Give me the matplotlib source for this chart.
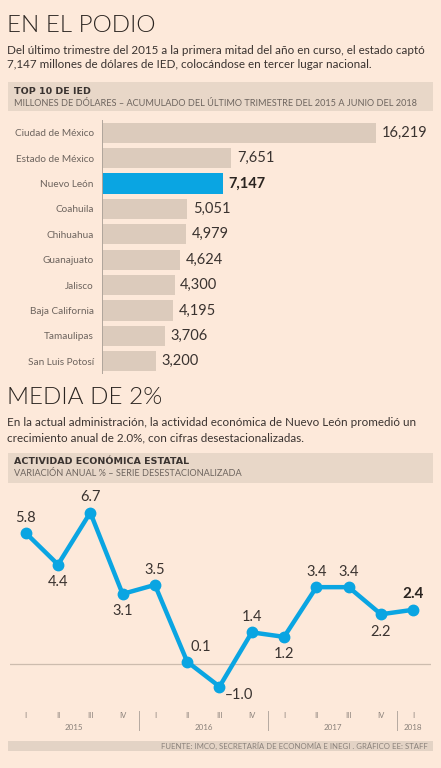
import numpy as np
import matplotlib
matplotlib.use("Agg")
import matplotlib.pyplot as plt
from matplotlib.patches import Rectangle

plt.rcParams["font.family"] = ["Lato", "DejaVu Sans"]

# Datos: top 10 de IED (millones de dólares)
estados = ["Ciudad de México", "Estado de México", "Nuevo León", "Coahuila",
           "Chihuahua", "Guanajuato", "Jalisco", "Baja California",
           "Tamaulipas", "San Luis Potosí"]
ied = [16219, 7651, 7147, 5051, 4979, 4624, 4300, 4195, 3706, 3200]
destacado = "Nuevo León"

# Datos: actividad económica estatal (variación anual %)
trimestres = ["I", "II", "III", "IV", "I", "II", "III", "IV",
              "I", "II", "III", "IV", "I"]
anios = ["2015", "2016", "2017", "2018"]
trimestres_por_anio = [4, 4, 4, 1]
variacion = [5.8, 4.4, 6.7, 3.1, 3.5, 0.1, -1.0, 1.4, 1.2, 3.4, 3.4, 2.2, 2.4]
posicion_etiqueta = ["arriba", "abajo", "arriba", "abajo", "arriba", "der_arriba",
                     "der_abajo", "arriba", "abajo", "arriba", "arriba", "abajo", "arriba"]

# Colores
FONDO = "#fde9da"
BARRA = "#dccbbc"
CAJA = "#e8d7c8"
AZUL = "#0aa5e2"
TEXTO = "#3a3330"
GRIS = "#6d645e"
GRIS_CLARO = "#8a817a"

W, H = 441, 768
fig = plt.figure(figsize=(W / 100, H / 100), dpi=100)
fig.patch.set_facecolor(FONDO)


def fx(px):
    return px / W


def fy(py):
    return 1 - py / H


def caja(x0, y0, x1, y1, color):
    fig.patches.append(Rectangle((fx(x0), fy(y1)), fx(x1) - fx(x0), fy(y0) - fy(y1),
                                 transform=fig.transFigure, facecolor=color,
                                 edgecolor="none", zorder=0))


def cabecera(y0, y1, titulo, subtitulo):
    caja(8, y0, 433, y1, CAJA)
    fig.text(fx(14), fy(y0 + 9), titulo, fontsize=6.8, fontweight="bold",
             family="DejaVu Sans", color=TEXTO, va="center")
    fig.text(fx(14), fy(y0 + 21), subtitulo, fontsize=6.55, color=GRIS, va="center")


# ---- Sección 1 ----
fig.text(fx(7), fy(25), "EN EL PODIO", fontsize=17.5, fontweight=300,
         color="#2a2420", va="center", ha="left")
fig.text(fx(7), fy(50), "Del último trimestre del 2015 a la primera mitad del año en curso, el estado captó",
         fontsize=8.35, color=TEXTO, va="center")
fig.text(fx(7), fy(65), "7,147 millones de dólares de IED, colocándose en tercer lugar nacional.",
         fontsize=8.35, color=TEXTO, va="center")

cabecera(82, 111, "TOP 10 DE IED",
         "MILLONES DE DÓLARES – ACUMULADO DEL ÚLTIMO TRIMESTRE DEL 2015 A JUNIO DEL 2018")

ax1 = fig.add_axes([fx(102), fy(374), fx(433) - fx(102), fy(120) - fy(374)])
ax1.set_facecolor("none")
y = np.arange(len(estados))
colores = [AZUL if e == destacado else BARRA for e in estados]
ax1.barh(y, ied, height=0.8, color=colores, zorder=2)
ax1.set_xlim(0, 331 / 0.0169)
ax1.set_ylim(len(estados) - 0.5, -0.5)
ax1.axvline(0, color="#b0a59c", linewidth=0.7, zorder=3)
for s in ax1.spines.values():
    s.set_visible(False)
ax1.set_xticks([])
ax1.set_yticks(y)
ax1.set_yticklabels(estados, fontsize=7.2, color=GRIS)
ax1.tick_params(axis="y", length=0, pad=6)
for i, (e, v) in enumerate(zip(estados, ied)):
    peso = "bold" if e == destacado else "normal"
    ax1.annotate(f"{v:,}", xy=(v, i), xytext=(4, 0), textcoords="offset points",
                 va="center", ha="left", fontsize=10.5, fontweight=peso,
                 color="#2a2420" if e == destacado else TEXTO)

# ---- Sección 2 ----
fig.text(fx(7), fy(398), "MEDIA DE 2%", fontsize=17.5, fontweight=300,
         color="#2a2420", va="center", ha="left")
fig.text(fx(7), fy(422), "En la actual administración, la actividad económica de Nuevo León promedió un",
         fontsize=8.35, color=TEXTO, va="center")
fig.text(fx(7), fy(438), "crecimiento anual de 2.0%, con cifras desestacionalizadas.",
         fontsize=8.35, color=TEXTO, va="center")

cabecera(453, 483, "ACTIVIDAD ECONÓMICA ESTATAL",
         "VARIACIÓN ANUAL % – SERIE DESESTACIONALIZADA")

px0, dpx = 25.7, 32.3
py0, dpy = 664, 22.6
ax2 = fig.add_axes([fx(10), fy(740), fx(431) - fx(10), fy(495) - fy(740)])
ax2.set_facecolor("none")
ax2.set_xlim((10 - px0) / dpx, (431 - px0) / dpx)
ax2.set_ylim((py0 - 740) / dpy, (py0 - 495) / dpy)
ax2.axis("off")

xs = np.arange(len(variacion))
ax2.axhline(0, color="#cdbcae", linewidth=0.9, zorder=1)
ax2.plot(xs, variacion, color=AZUL, linewidth=3.2, marker="o", markersize=7.5,
         solid_joinstyle="miter", zorder=3)

desplaz = {"arriba": (0, 11, "center", "center"),
           "abajo": (0, -12.5, "center", "center"),
           "der_arriba": (9.5, 10.5, "center", "center"),
           "der_abajo": (3.8, -6.2, "left", "center")}
for i, (v, pos) in enumerate(zip(variacion, posicion_etiqueta)):
    dx, dy, ha, va = desplaz[pos]
    ultimo = i == len(variacion) - 1
    txt = f"{v:.1f}".replace("-", "‒") if v < 0 else f"{v:.1f}"
    ax2.annotate(txt, xy=(i, v), xytext=(dx, dy),
                 textcoords="offset points", ha=ha, va=va,
                 fontsize=11 if ultimo else 10.5,
                 fontweight="bold" if ultimo else "normal",
                 color="#2a2420" if ultimo else TEXTO)

# Eje de trimestres y años
y_trim = (py0 - 715) / dpy
y_anio = (py0 - 728) / dpy
for i, t in enumerate(trimestres):
    ax2.text(i, y_trim, t, ha="center", va="center", fontsize=5.5, color=GRIS_CLARO)
inicio = 0
for anio, n in zip(anios, trimestres_por_anio):
    centro = inicio + (n - 1) / 2
    ax2.text(centro, y_anio, anio, ha="center", va="center", fontsize=5.8, color=GRIS_CLARO)
    if inicio > 0:
        ax2.plot([inicio - 0.5, inicio - 0.5], [(py0 - 711) / dpy, (py0 - 730) / dpy],
                 color="#b5aaa1", linewidth=0.7)
    inicio += n

caja(8, 741, 433, 751, "#e3d3c5")
fig.text(fx(428), fy(746), "FUENTE: IMCO, SECRETARÍA DE ECONOMÍA E INEGI . GRÁFICO EE: STAFF",
         fontsize=5.6, color=GRIS_CLARO, va="center", ha="right")

fig.savefig("out.png", dpi=100, facecolor=FONDO)
